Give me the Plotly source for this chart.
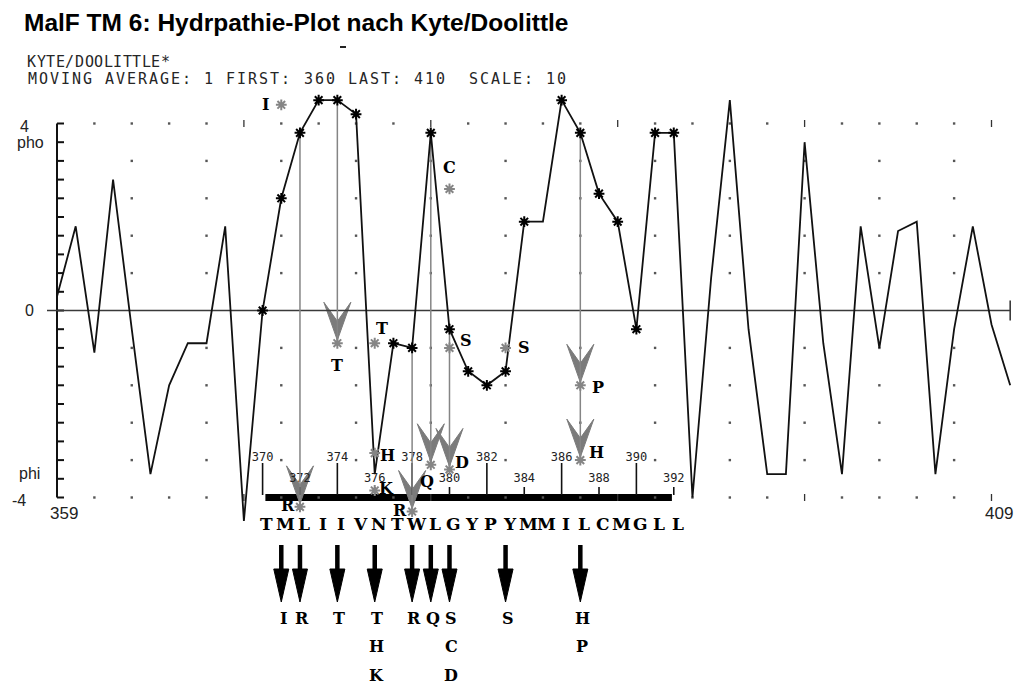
import plotly.graph_objects as go

# ---------------------------------------------------------------
# Kyte/Doolittle hydropathy of MalF, residues 359-410 (window 1)
# ---------------------------------------------------------------
residues = list(range(359, 411))
hydropathy = [0.3, 1.8, -0.9, 2.8, -0.4, -3.5, -1.6, -0.7, -0.7, 1.8,
              -4.5, 0.0, 2.4, 3.8, 4.5, 4.5, 4.2, -3.5, -0.7, -0.8,
              3.8, -0.4, -1.3, -1.6, -1.3, 1.9, 1.9, 4.5, 3.8, 2.5,
              1.9, -0.4, 3.8, 3.8, -4.0, 0.7, 4.5, -0.4, -3.5, -3.5,
              3.6, -0.7, -3.5, 1.8, -0.8, 1.7, 1.9, -3.5, -0.4, 1.8,
              -0.3, -1.6]

# residues of TM 6 marked with a star on the profile
starred = [370, 371, 372, 373, 374, 375, 377, 378, 379, 380, 381, 382,
           383, 384, 386, 387, 388, 389, 390, 391, 392]

# TM 6 sequence (370-392)
seq_start = 370
sequence = "TMLIIVNTWLGYPYMMILCMGLL"
seq_ticks = list(range(370, 393, 2))

# point mutations: residue, new amino acid, its hydropathy
mut_residue = [371, 372, 374, 376, 376, 376, 378, 379, 380, 380, 380, 383, 387, 387]
mut_aa = ["I", "R", "T", "T", "H", "K", "R", "Q", "S", "C", "D", "S", "H", "P"]
mut_value = [4.4, -4.2, -0.7, -0.7, -3.05, -3.85, -4.3, -3.3, -0.8, 2.6, -3.4, -0.8, -3.2, -1.6]
mut_arrow = [False, True, True, False, False, False, True, True, False, False, True, False, True, True]
# letter placement next to its star (pixels: right, down)
mut_label_shift = [(-16, 0), (-12, -1), (0, 22), (7, -15), (13, 2), (12, -2), (-12, -1),
                   (-4, 17), (17, -7), (0, -21), (13, -7), (18, 0), (16, -8), (18, 2)]

# axis labels
y_labels = ["4", "pho", "0", "phi", "-4"]
x_labels = ["359", "409"]

# header lines
header_1 = "KYTE/DOOLITTLE*"
header_2 = "MOVING AVERAGE: 1 FIRST: 360 LAST: 410  SCALE: 10"
title = "MalF TM 6: Hydrpathie-Plot nach Kyte/Doolittle"

# ---------------------------------------------------------------
# geometry of the page
# ---------------------------------------------------------------
W, H = 1018, 687
X0, DX = 57.0, 18.69      # pixel of residue 359, pixels per residue
Y0, DY = 310.5, 46.75     # pixel of hydropathy 0, pixels per unit
ux, uy = 1.0 / DX, 1.0 / DY


def px_x(px):
    return 359 + (px - X0) / DX


def px_y(py):
    return (Y0 - py) / DY


def hval(r):
    return hydropathy[residues.index(r)]


GRAY = "#858585"
INK = "#111111"
fig = go.Figure()
shapes = []
annotations = []

# ---- dotted grid ----
gx, gy, tx, ty = [], [], [], []
for row in (4, -4):
    for r in range(361, 410, 2):
        if r % 10 == 9:
            tx += [r, r, None]
            ty += [row - 3.5 * uy, row + 3.5 * uy, None]
        else:
            gx.append(r)
            gy.append(row)
for row in (3.2, 2.4, 1.6, 0.8, -0.8, -1.6, -2.4, -3.2):
    for r in range(363, 410, 4):
        gx.append(r)
        gy.append(row)
fig.add_trace(go.Scatter(x=gx, y=gy, mode="markers", hoverinfo="skip",
                         marker=dict(symbol="square", size=2.4, color="#555555")))
fig.add_trace(go.Scatter(x=tx, y=ty, mode="lines", hoverinfo="skip",
                         line=dict(color="#333333", width=1.3)))

# ---- left axis with ticks every 0.4 ----
ax_x, ax_y = [359, 359, None], [-4, 4, None]
for k in range(21):
    v = -4 + 0.4 * k
    ax_x += [359, 359 + 7 * ux, None]
    ax_y += [v, v, None]
fig.add_trace(go.Scatter(x=ax_x, y=ax_y, mode="lines", hoverinfo="skip",
                         line=dict(color=INK, width=2)))

# ---- zero line with end tick ----
fig.add_trace(go.Scatter(x=[px_x(47), 410, None, 410, 410],
                         y=[0, 0, None, -10 * uy, 10 * uy],
                         mode="lines", hoverinfo="skip",
                         line=dict(color="#3a3a3a", width=1.6)))

# ---- TM 6 scale bar below the profile ----
shapes.append(dict(type="line", xref="x", yref="y", x0=seq_start + 0.15, x1=seq_start + len(sequence) - 1.1,
                   y0=-4, y1=-4, line=dict(color="#000000", width=7), layer="below"))
bt_x, bt_y, lab_x, lab_y, lab_t = [], [], [], [], []
for i, r in enumerate(seq_ticks):
    top = 463 if i % 2 == 0 else 487
    bt_x += [r, r, None]
    bt_y += [px_y(top), px_y(495), None]
    lab_x.append(r)
    lab_y.append(px_y(458 if i % 2 == 0 else 479))
    lab_t.append(str(r))
fig.add_trace(go.Scatter(x=bt_x, y=bt_y, mode="lines", hoverinfo="skip",
                         line=dict(color=INK, width=1.6)))
fig.add_trace(go.Scatter(x=lab_x, y=lab_y, mode="text", text=lab_t, hoverinfo="skip",
                         textfont=dict(family="DejaVu Sans Mono", size=12, color="#222222")))

# ---- gray mutation lines and arrowheads ----
gl_x, gl_y = [], []
for r in sorted(set(r for r, a in zip(mut_residue, mut_arrow) if a)):
    targets = [v for rr, v, a in zip(mut_residue, mut_value, mut_arrow) if rr == r and a]
    gl_x += [r, r, None]
    gl_y += [hval(r), min(targets), None]
fig.add_trace(go.Scatter(x=gl_x, y=gl_y, mode="lines", hoverinfo="skip",
                         line=dict(color=GRAY, width=1.5)))


def chevron(xc, ytip, w=27, h=38, notch=19):
    xl, xr = xc - w / 2 * ux, xc + w / 2 * ux
    yt, yn = ytip + h * uy, ytip + notch * uy
    return f"M {xc},{ytip} L {xr},{yt} L {xc},{yn} L {xl},{yt} Z"


for r, v, a in zip(mut_residue, mut_value, mut_arrow):
    if a:
        shapes.append(dict(type="path", xref="x", yref="y", path=chevron(r, v + 3 * uy),
                           fillcolor="#7b7b7b", line=dict(color="#7b7b7b", width=1), layer="below"))

# ---- hydropathy profile ----
fig.add_trace(go.Scatter(x=residues, y=hydropathy, mode="lines", hoverinfo="skip",
                         line=dict(color=INK, width=1.8)))
fig.add_trace(go.Scatter(x=starred, y=[hval(r) for r in starred], mode="markers", hoverinfo="skip",
                         marker=dict(symbol="asterisk-open", size=9, color="#000000",
                                     line=dict(color="#000000", width=2))))
fig.add_trace(go.Scatter(x=mut_residue, y=mut_value, mode="markers", hoverinfo="skip",
                         marker=dict(symbol="asterisk-open", size=9, color=GRAY,
                                     line=dict(color=GRAY, width=2))))

letter_font = dict(family="DejaVu Serif", size=16, color="#000000", weight="bold")
for r, aa, v, (dx, dy) in zip(mut_residue, mut_aa, mut_value, mut_label_shift):
    annotations.append(dict(x=r, y=v, xref="x", yref="y", text=aa, showarrow=False,
                            xshift=dx, yshift=-dy, font=letter_font))

# ---- sequence of TM 6 ----
for i, aa in enumerate(sequence):
    annotations.append(dict(x=seq_start + i, y=px_y(524), xref="x", yref="y", text=aa,
                            showarrow=False, xshift=4,
                            font=dict(family="DejaVu Serif", size=17, color="#000000", weight="bold")))

# ---- black arrows to the substituted residues ----
sites = sorted(set(mut_residue))
for r in sites:
    shapes.append(dict(type="line", xref="x", yref="y", x0=r, x1=r, y0=px_y(545), y1=px_y(574),
                       line=dict(color="#000000", width=4.5), layer="below"))
    shapes.append(dict(type="path", xref="x", yref="y",
                       path=f"M {r - 7.5 * ux},{px_y(569)} L {r + 7.5 * ux},{px_y(569)} L {r},{px_y(602)} Z",
                       fillcolor="#000000", line=dict(color="#000000", width=1), layer="below"))
    subs = [aa for rr, aa in zip(mut_residue, mut_aa) if rr == r]
    for k, aa in enumerate(subs):
        annotations.append(dict(x=r, y=px_y(618 + 28.5 * k), xref="x", yref="y", text=aa,
                                showarrow=False, xshift=2, font=letter_font))

# ---- axis labels ----
axis_font = dict(family="Liberation Sans", size=16, color="#222222")
for txt, v, dx, dy in zip(y_labels, [4, 3.6, 0, -3.6, -4], [-33, -27, -28, -28, -38], [3, 0, 0, -5, 3]):
    annotations.append(dict(x=359, y=v, xref="x", yref="y", text=txt, showarrow=False,
                            xshift=dx, yshift=-dy, font=axis_font))
for txt in x_labels:
    annotations.append(dict(x=int(txt), y=-4, xref="x", yref="y", text=txt, showarrow=False,
                            xshift=7, yshift=-16, font=dict(family="Liberation Sans", size=17, color="#222222")))

# ---- headings ----
annotations.append(dict(x=22 / W, y=1 - 22 / H, xref="paper", yref="paper", xanchor="left", yanchor="middle",
                        text=title, showarrow=False,
                        font=dict(family="Liberation Sans", size=24.5, color="#000000", weight="bold")))

# header in a wide fixed-pitch terminal face: one glyph per cell
mono = dict(family="DejaVu Sans Mono", size=15, color="#262626")
for line_text, left, pitch, yc in ((header_1, 27, 9.55, 62), (header_2, 27, 11.02, 79)):
    for i, ch in enumerate(line_text):
        if ch == " ":
            continue
        annotations.append(dict(x=(left + (i + 0.5) * pitch) / W, y=1 - yc / H, xref="paper", yref="paper",
                                xanchor="center", yanchor="middle", text=ch, showarrow=False, font=mono))
shapes.append(dict(type="line", xref="paper", yref="paper", x0=340 / W, x1=346 / W,
                   y0=1 - 47 / H, y1=1 - 47 / H, line=dict(color="#222222", width=2)))

fig.update_layout(
    width=W, height=H, margin=dict(l=0, r=0, t=0, b=0),
    paper_bgcolor="white", plot_bgcolor="white", showlegend=False,
    xaxis=dict(range=[px_x(0), px_x(W)], visible=False, fixedrange=True),
    yaxis=dict(range=[px_y(H), px_y(0)], visible=False, fixedrange=True),
    shapes=shapes, annotations=annotations,
)
fig.write_html("out.html")
